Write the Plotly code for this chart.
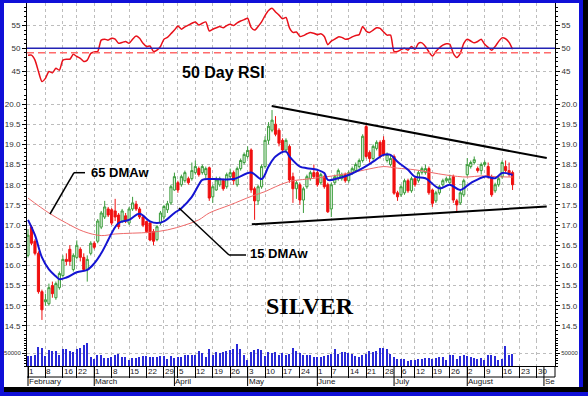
import plotly.graph_objects as go

# ---------------- data (trading-day index 0 = 1 Feb) ----------------
day = list(range(140))

open_ = [16.25, 16.95, 16.6, 16.3, 15.35, 15.1, 15.05, 15.5, 15.2, 15.45, 15.75, 16.15, 16.4, 15.9, 16.2, 16.4, 16.2, 15.9, 16.3,
         16.55, 16.6, 16.95, 17.2, 17.4, 17.38, 17.35, 17.25, 17.1, 17.23, 17.05, 17.4, 17.52, 17.4, 17.2, 17.09, 17.05, 16.84, 16.64, 17.05, 17.2, 17.38, 17.55,
         17.87, 18.05, 18.0, 18.1, 18.15, 18.15, 18.3, 18.4, 18.3, 18.25, 18.42, 17.7, 17.87, 18.0, 18.1, 17.95, 18.2, 18.3, 18.0, 18.4, 18.55,
         18.7, 18.86, 17.9, 17.6, 17.95, 18.45, 19.1, 19.35, 19.5, 19.35, 19.1, 18.86, 18.95, 18.2, 17.9, 18.0, 17.62, 17.95, 18.15, 18.3,
         18.3, 18.05, 18.2, 18.0, 17.4, 18.05, 18.15, 18.15, 18.25, 18.1, 18.3, 18.35, 18.45, 18.6, 19.44, 18.8, 18.65, 18.9, 19.05, 19.1, 18.6, 18.5,
         18.7, 17.8, 17.75, 17.8, 18.1, 17.85, 18.15, 18.1, 18.3, 18.3, 18.4, 17.87, 17.6, 17.8, 18.0, 18.1, 18.05, 18.2, 17.6, 17.55, 17.75,
         18.25, 18.45, 18.55, 18.4, 18.35, 18.5, 18.45, 18.2, 17.85, 18.0, 18.2, 18.45, 18.35, 18.3]
close = [16.75, 16.55, 16.3, 15.35, 14.9, 15.15, 15.45, 15.3, 15.55, 15.8, 16.15, 16.1, 16.1, 16.25, 16.5, 16.2, 15.9, 16.15, 16.55,
         16.45, 17.1, 17.3, 17.45, 17.25, 17.05, 17.2, 16.96, 17.35, 17.1, 17.4, 17.55, 17.4, 17.2, 17.0, 16.84, 16.63, 16.6, 16.96, 17.3, 17.46, 17.53, 17.95,
         18.2, 17.87, 18.2, 18.3, 18.05, 18.35, 18.45, 18.25, 18.45, 18.4, 17.67, 17.95, 18.12, 18.15, 17.9, 18.25, 18.3, 18.1, 18.4, 18.6, 18.75,
         18.85, 17.87, 17.6, 17.95, 18.45, 19.1, 19.45, 19.6, 19.25, 19.03, 18.86, 19.1, 18.12, 17.9, 18.05, 17.62, 17.9, 18.2, 18.3, 18.2,
         18.0, 18.25, 17.95, 17.33, 18.0, 18.2, 18.35, 18.25, 18.1, 18.3, 18.4, 18.5, 18.6, 19.2, 18.7, 18.65, 18.95, 19.05, 18.7, 18.75, 18.75, 18.65,
         17.79, 17.7, 17.95, 18.1, 17.85, 18.15, 18.0, 18.3, 18.4, 18.4, 17.8, 17.54, 17.8, 17.95, 18.1, 18.15, 18.15, 17.62, 17.5, 17.8, 18.1,
         18.5, 18.55, 18.62, 18.35, 18.5, 18.55, 18.2, 17.75, 18.0, 18.15, 18.55, 18.35, 18.25, 18.0]
high = [16.9, 17.0, 16.65, 16.35, 15.4, 15.3, 15.55, 15.6, 15.6, 15.85, 16.25, 16.3, 16.5, 16.3, 16.62, 16.45, 16.3, 16.25, 16.6,
        16.6, 17.15, 17.35, 17.6, 17.45, 17.42, 17.65, 17.3, 17.4, 17.3, 17.45, 17.7, 17.6, 17.45, 17.25, 17.1, 17.1, 16.9, 17.0, 17.35, 17.5, 17.6, 18.0,
        18.3, 18.1, 18.25, 18.35, 18.2, 18.55, 18.6, 18.45, 18.5, 18.45, 18.45, 18.0, 18.2, 18.2, 18.15, 18.3, 18.4, 18.35, 18.45, 18.65, 18.8,
        18.95, 18.9, 17.95, 18.0, 18.5, 19.2, 19.55, 19.85, 19.7, 19.4, 19.15, 19.15, 19.0, 18.3, 18.1, 18.05, 17.95, 18.25, 18.35, 18.5,
        18.35, 18.3, 18.25, 18.05, 18.05, 18.25, 18.4, 18.3, 18.3, 18.35, 18.45, 18.55, 18.65, 19.25, 19.53, 18.85, 19.0, 19.1, 19.1, 19.2, 18.8, 18.75,
        18.75, 17.85, 18.0, 18.15, 18.15, 18.2, 18.2, 18.35, 18.45, 18.5, 18.45, 17.9, 17.85, 18.0, 18.15, 18.2, 18.25, 18.25, 17.65, 17.85, 18.15,
        18.66, 18.6, 18.7, 18.45, 18.55, 18.6, 18.55, 18.25, 18.05, 18.2, 18.6, 18.6, 18.55, 18.35]
low = [16.2, 16.5, 16.25, 15.3, 14.65, 15.0, 15.0, 15.2, 15.15, 15.4, 15.7, 16.0, 16.0, 15.85, 16.15, 16.1, 15.85, 15.6, 16.25,
       16.4, 16.55, 16.9, 17.15, 17.2, 17.0, 17.1, 16.9, 17.05, 17.05, 17.0, 17.35, 17.35, 17.15, 16.95, 16.8, 16.6, 16.5, 16.6, 17.0, 17.15, 17.3, 17.5,
       17.85, 17.8, 17.95, 18.05, 18.0, 18.1, 18.25, 18.2, 18.25, 18.15, 17.6, 17.55, 17.85, 17.95, 17.85, 17.9, 18.15, 18.0, 17.95, 18.35, 18.5,
       18.65, 17.8, 17.13, 17.5, 17.9, 18.4, 19.0, 19.3, 19.2, 18.95, 18.8, 18.8, 18.05, 17.55, 17.65, 17.5, 17.3, 17.9, 18.1, 18.15,
       17.95, 18.0, 17.9, 17.3, 17.2, 18.0, 18.1, 18.1, 18.05, 18.05, 18.25, 18.3, 18.4, 18.55, 18.65, 18.55, 18.6, 18.85, 18.65, 18.7, 18.55, 18.45,
       17.75, 17.6, 17.7, 17.75, 17.8, 17.8, 17.95, 18.05, 18.25, 18.25, 17.75, 17.45, 17.55, 17.75, 17.95, 18.05, 18.0, 17.55, 17.33, 17.5, 17.7,
       18.2, 18.4, 18.5, 18.3, 18.25, 18.45, 18.15, 17.7, 17.8, 17.95, 18.15, 18.3, 18.2, 17.87]

volume = [37600, 37600, 41400, 75000, 70000, 37600, 62700, 57600, 57600, 41400, 65000, 65000, 57600, 54000, 66400, 72700, 82700, 91500, 35000,
          28800, 45000, 41400, 32600, 32600, 35000, 41400, 47600, 35000, 35000, 25000, 32600, 32600, 35000, 37600, 37600, 35000, 35000, 35000,
          37600, 37600, 28800, 37600, 32600, 35000, 35000, 41400, 41400, 41400, 41400,
          60200, 50100, 35000, 66400, 41400, 56400, 50100, 54000, 57600, 62700, 66400, 85200, 66400, 41400, 25000, 54000, 62700, 66400, 64000,
          37600, 54000, 51400, 54000, 45000, 50100, 41400, 47600, 70200, 57600, 51400, 45000, 45000, 45000, 35000, 35000, 35000, 38800, 41400,
          47600, 66400, 47600, 54000, 54000, 50100, 47600, 37600, 35000, 43900, 47600, 60200, 54000, 60200, 70200, 72700, 66400,
          47600, 35000, 28800, 28800, 28800, 20000, 22600, 22600, 28800, 28800, 32600, 32600, 28800, 32600, 35000, 35000, 25000, 43900, 43900,
          28800, 37600, 43900, 37600, 35000, 32600, 28800, 32600, 25000, 41400, 41400, 37600, 25000, 28800, 79000, 45000, 47600]

rsi = [48.5, 48.5, 47.4, 44.9, 42.7, 43.4, 44.9, 44.6, 45.6, 45.2, 47.4, 47.6, 47.6, 48.7, 48.2, 47.8, 47.1, 47.4, 48.9, 49.2,
       49.3, 51.8, 52.0, 51.8, 52.2, 52.0, 51.1, 51.3, 51.5, 51.1, 52.0, 52.7, 52.2, 51.1, 50.4, 50.5, 49.3, 49.6, 50.4, 52.0,
       52.4, 53.2, 54.0, 54.9, 54.2, 54.7, 55.1, 55.5, 55.8, 55.1,
       55.5, 55.8, 53.8, 54.2, 54.5, 54.8, 54.5, 55.0, 55.3, 55.0, 55.6, 56.0, 56.3, 56.6, 54.6, 54.0, 54.8, 55.8, 57.2, 58.3,
       58.8, 58.0, 57.3, 56.5, 56.8, 54.5, 53.5, 53.6, 52.6, 52.8, 53.2, 53.5, 53.3, 53.0, 53.2, 52.6, 50.8, 51.6, 52.0, 52.5,
       52.4, 52.0, 52.1, 52.5, 52.8, 53.0, 54.8, 53.8, 53.5, 54.0, 54.5,
       54.4, 53.6, 52.9, 52.9, 49.3, 49.3, 49.7, 50.0, 49.6, 50.4, 49.8, 51.1, 51.2, 50.4, 49.2, 48.3, 49.3, 50.1, 50.7, 51.0,
       50.9, 48.9, 48.0, 48.9, 51.1, 52.0, 51.6, 51.2, 51.5, 52.0, 50.9, 50.2, 49.6, 50.4, 51.5, 52.3, 52.1, 51.3, 49.8]

ma15_day = [0, 2, 4, 6, 8, 9, 11, 14, 17, 19, 21, 23, 24, 26, 29, 32, 35, 37, 39, 42, 44, 47, 49, 50, 53, 59, 64, 67, 69, 71,
            74, 75, 78, 80, 83, 85, 86, 89, 92, 96, 99, 102, 104, 106, 109, 111, 114, 118, 121, 124, 127, 131, 134, 136, 139]
ma15_val = [17.13, 16.75, 16.2, 15.9, 15.73, 15.66, 15.7, 15.83, 15.89, 16.05, 16.3, 16.63, 16.8, 17.05, 17.13, 17.28, 17.09, 17.05, 17.09, 17.3,
            17.42, 17.7, 18.0, 18.12, 18.14, 18.14, 18.3, 18.14, 18.45, 18.7, 18.82, 18.7, 18.45, 18.41, 18.37, 18.29, 18.12, 18.16, 18.24, 18.41,
            18.57, 18.74, 18.74, 18.57, 18.37, 18.2, 18.16, 17.91, 18.0, 17.87, 18.04, 18.2, 18.16, 18.29, 18.24]
ma65_day = [0, 6, 11, 16, 21, 25, 30, 35, 40, 45, 49, 52, 58, 64, 68, 71, 75, 80, 85, 89, 94, 99, 102, 106, 111, 120, 126, 130, 134, 139]
ma65_val = [17.67, 17.3, 17.05, 16.84, 16.74, 16.78, 16.8, 16.82, 16.88, 17.0, 17.13, 17.3, 17.5, 17.71, 17.83, 17.95, 18.08, 18.14, 18.19, 18.24,
            18.32, 18.41, 18.45, 18.41, 18.37, 18.24, 18.19, 18.22, 18.2, 18.19]

# trend lines drawn on the chart (day, price)
upper_trend_day = [69.9, 148.8]
upper_trend_price = [19.95, 18.66]
lower_trend_day = [64.2, 148.8]
lower_trend_price = [17.02, 17.46]

week_tick_day = [0, 5, 10, 14, 19, 24, 29, 34, 39, 43, 48, 53, 58, 63, 68, 73, 78, 83, 87, 92, 97, 102, 107, 111, 116, 121, 126, 131, 136, 141, 146]
week_tick_label = ['1', '8', '16', '22', '1', '8', '15', '22', '29', '5', '12', '19', '26', '3', '10', '17', '24', '1', '7', '14', '21', '28',
                   '6', '12', '19', '26', '2', '9', '16', '23', '30']
month_start_day = [0, 19, 42, 63, 83, 105, 126, 148]
month_label = ['February', 'March', 'April', 'May', 'June', 'July', 'August', 'Se']

# ---------------- geometry ----------------
W, H = 588, 396
PL, PR, PT, PB = 27, 555, 3, 366
X_LO, X_HI = -0.287, 151.17


def fx(px):
    return (px - PL) / (PR - PL)


def fy(py):
    return (PB - py) / (PB - PT)


d_vol = fy(340)
d_price = fy(92)

fig = go.Figure()

fig.add_trace(go.Bar(x=day, y=volume, width=0.42, marker=dict(color='#2a2ad8', line=dict(width=0)),
                     xaxis='x', yaxis='y3', hoverinfo='skip'))
fig.add_trace(go.Candlestick(x=day, open=open_, high=high, low=low, close=close, xaxis='x', yaxis='y2',
                             increasing=dict(line=dict(color='#3c9c3c', width=1), fillcolor='#e2f5e2'),
                             decreasing=dict(line=dict(color='#f01010', width=1), fillcolor='#f01010'),
                             whiskerwidth=0, hoverinfo='skip'))
fig.add_trace(go.Scatter(x=ma65_day, y=ma65_val, mode='lines', yaxis='y2',
                         line=dict(color='#ee6a6a', width=1, shape='spline', smoothing=1.0), hoverinfo='skip'))
fig.add_trace(go.Scatter(x=ma15_day, y=ma15_val, mode='lines', yaxis='y2',
                         line=dict(color='#1414d2', width=2, shape='spline', smoothing=1.0), hoverinfo='skip'))
fig.add_trace(go.Scatter(x=day, y=rsi, mode='lines', yaxis='y',
                         line=dict(color='#e8101a', width=1.5, shape='spline', smoothing=0.6), hoverinfo='skip'))
# dummies so right-hand axes are drawn
for ax, v in (('y4', 50), ('y5', 17), ('y6', 10000)):
    fig.add_trace(go.Scatter(x=[0], y=[v], yaxis=ax, mode='markers', marker=dict(opacity=0), hoverinfo='skip'))

tickfont = dict(family='Arial, Liberation Sans, sans-serif', size=8, color='#303030')
grid = dict(showgrid=True, gridcolor='#bdbdbd', griddash='dot', gridwidth=1)
minor_common = dict(ticks='outside', ticklen=2, tickcolor='#000', showgrid=False)


def yax(domain, rng, side, **kw):
    d = dict(domain=domain, range=rng, anchor='x', side=side, showline=True, linecolor='#000', linewidth=1,
             ticks='outside', ticklen=4, tickcolor='#000', tickfont=tickfont, zeroline=False, fixedrange=True,
             automargin=False)
    d.update(kw)
    return d


rsi_rng = [40.40, 59.96]
price_rng = [20 - (340 - 104) / 40.36, 20 + (104 - 92) / 40.36]
vol_rng = [0, 26 / 12.7 * 50000]

rsi_kw = dict(tickmode='linear', tick0=45, dtick=5, minor=dict(tickmode='linear', tick0=0, dtick=1, **minor_common))
price_kw = dict(tickmode='linear', tick0=0, dtick=0.5, tickformat='.1f',
                minor=dict(tickmode='linear', tick0=0, dtick=0.1, **minor_common))
vol_kw = dict(tickmode='array', tickvals=[50000], ticktext=['50000'],
              tickfont=dict(family='Arial, Liberation Sans, sans-serif', size=6, color='#303030'),
              minor=dict(tickmode='linear', tick0=0, dtick=10000, **minor_common))

fig.update_layout(
    template='none',
    width=W, height=H, margin=dict(l=PL, r=W - PR, t=PT, b=H - PB, pad=0, autoexpand=False),
    paper_bgcolor='white', plot_bgcolor='white', showlegend=False, bargap=0, boxgap=0.12,
    xaxis=dict(domain=[0, 1], range=[X_LO, X_HI], anchor='y3', tickmode='array', tickvals=week_tick_day,
               showticklabels=False, ticks='outside', ticklen=11, tickcolor='#000', tickwidth=1,
               showline=True, linecolor='#000', linewidth=1, zeroline=False, fixedrange=True, automargin=False,
               rangeslider=dict(visible=False), **grid),
    yaxis=yax([d_price, 1], rsi_rng, 'left', **grid, **rsi_kw),
    yaxis2=yax([d_vol, d_price], price_rng, 'left', **grid, **price_kw),
    yaxis3=yax([0, d_vol], vol_rng, 'left', **grid, **vol_kw),
    yaxis4=yax([d_price, 1], rsi_rng, 'right', overlaying='y', showgrid=False, **rsi_kw),
    yaxis5=yax([d_vol, d_price], price_rng, 'right', overlaying='y2', showgrid=False, **price_kw),
    yaxis6=yax([0, d_vol], vol_rng, 'right', overlaying='y3', showgrid=False, **vol_kw),
)

shapes = []


def pline(x0, y0, x1, y1, color='#000', width=1, dash='solid'):
    shapes.append(dict(type='line', xref='paper', yref='paper', x0=fx(x0), y0=fy(y0), x1=fx(x1), y1=fy(y1),
                       line=dict(color=color, width=width, dash=dash), layer='above'))


def prect(x0, y0, x1, y1, color):
    shapes.append(dict(type='rect', xref='paper', yref='paper', x0=fx(x0), y0=fy(y0), x1=fx(x1), y1=fy(y1),
                       line=dict(width=0), fillcolor=color, layer='above'))


# RSI reference lines
shapes.append(dict(type='line', xref='paper', yref='y', x0=0, x1=1, y0=49, y1=49,
                   line=dict(color='#ff6b6b', width=1.5, dash='7px,4px'), layer='above'))
shapes.append(dict(type='line', xref='paper', yref='y', x0=0, x1=1, y0=50, y1=50,
                   line=dict(color='#2323b4', width=1.5), layer='above'))

# trend lines
shapes.append(dict(type='line', xref='x', yref='y2', x0=upper_trend_day[0], y0=upper_trend_price[0],
                   x1=upper_trend_day[1], y1=upper_trend_price[1], line=dict(color='#000', width=2), layer='above'))
shapes.append(dict(type='line', xref='x', yref='y2', x0=lower_trend_day[0], y0=lower_trend_price[0],
                   x1=lower_trend_day[1], y1=lower_trend_price[1], line=dict(color='#000', width=2), layer='above'))

# leader lines for labels
pline(74, 172.7, 85, 172.7, width=1.5)
pline(74, 172.7, 50, 214, width=1.5)
pline(229, 255, 246, 255, width=1.5)
pline(179, 208, 229, 255, width=1.5)

# date rows
pline(PL, 377, PR, 377)
pline(PR, 366, PR, 377)
for m in month_start_day:
    shapes.append(dict(type='line', xref='x', yref='paper', x0=m, x1=m, y0=0, y1=fy(386),
                       line=dict(color='#000', width=1), layer='above'))

# frame
prect(0, 0, 4, 396, '#1010d8')
prect(0, 0, 588, 3, '#1010d8')
prect(579, 0, 583, 396, '#1010d8')
prect(583, 0, 588, 396, '#000')
prect(4, 387, 583, 392, '#000')
prect(0, 392, 588, 396, '#1010d8')

fig.update_layout(shapes=shapes)

ann = []
datefont = dict(family='Arial, Liberation Sans, sans-serif', size=8, color='#202020')
for d, t in zip(week_tick_day, week_tick_label):
    ann.append(dict(x=d, y=fy(371.8), xref='x', yref='paper', text=t, showarrow=False, xanchor='left',
                    yanchor='middle', xshift=0, font=datefont, borderpad=0))
for d, t in zip(month_start_day, month_label):
    ann.append(dict(x=d, y=fy(381.5), xref='x', yref='paper', text=t, showarrow=False, xanchor='left',
                    yanchor='middle', xshift=0, font=datefont, borderpad=0))

bold = 'Arial, Liberation Sans, sans-serif'


def label(px, py, text, font):
    ann.append(dict(x=fx(px), y=fy(py), xref='paper', yref='paper', text=text, showarrow=False,
                    xanchor='center', yanchor='middle', font=font, borderpad=0))


label(223, 72, '<b>50 Day RSI</b>', dict(family=bold, size=16, color='#000'))
label(119.5, 172.5, '<b>65 DMAw</b>', dict(family=bold, size=13, color='#000'))
label(278.5, 253, '<b>15 DMAw</b>', dict(family=bold, size=13, color='#000'))
label(310, 305.5, '<b>SILVER</b>', dict(family='Times New Roman, Liberation Serif, serif', size=24, color='#000'))
fig.update_layout(annotations=ann)

fig.write_html('out.html', config={'displayModeBar': False},
               post_script="document.body.style.margin='0px';document.body.style.overflow='hidden';")
